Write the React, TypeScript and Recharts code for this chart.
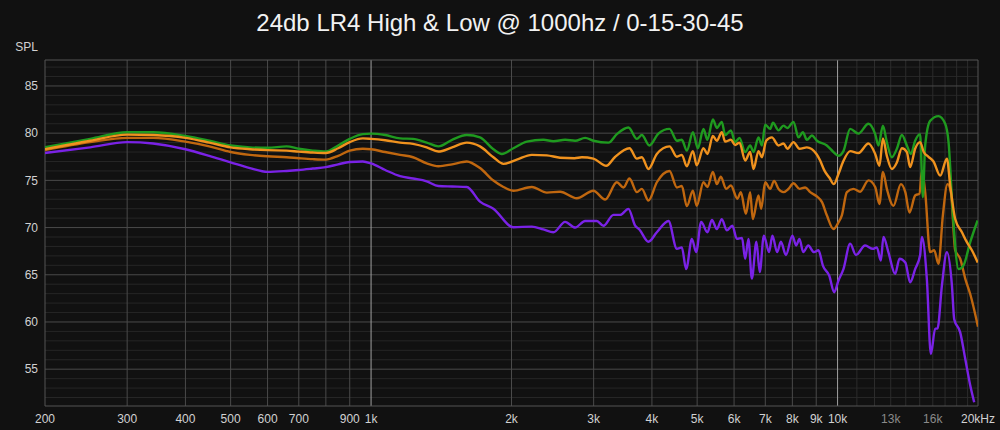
import React from "react";
import {LineChart, Line, XAxis, YAxis, ReferenceLine} from "recharts";

// frequency (Hz) / SPL (dB) readings per curve, 0-15-30-45 degrees
const greenHz = [200, 250, 300, 341, 400, 450, 500, 550, 600, 659, 700, 750, 800, 850, 900, 960, 1000, 1072, 1154, 1230, 1316, 1394, 1492, 1604, 1712, 1829, 1907, 2019, 2157, 2341, 2460, 2606, 2738, 2876, 2996, 3228, 3364, 3562, 3714, 3806, 3950, 4130, 4362, 4524, 4636, 4752, 4896, 5018, 5158, 5260, 5404, 5510, 5648, 5742, 5906, 6032, 6162, 6338, 6496, 6604, 6768, 6884, 6996, 7170, 7268, 7470, 7656, 7810, 8044, 8246, 8426, 8594, 8808, 9030, 9484, 9800, 10044, 10294, 10642, 11086, 11648, 12040, 12238, 12508, 12754, 13072, 13400, 13736, 14078, 14360, 14666, 15032, 15234, 15410, 15792, 16454, 17010, 17294, 17672, 18168, 18620, 19246, 19960];
const greenSpl = [78.5, 79.4, 80.1, 80.1, 79.7, 79.2, 78.7, 78.5, 78.45, 78.6, 78.35, 78.15, 78.05, 78.7, 79.4, 79.9, 79.95, 79.8, 79.45, 79.4, 79.0, 78.6, 79.3, 79.8, 79.55, 78.3, 77.8, 78.4, 79.1, 79.3, 79.15, 79.3, 79.2, 79.5, 79.2, 79.0, 79.9, 80.6, 79.4, 79.8, 78.7, 79.95, 80.45, 79.2, 79.3, 78.15, 80.1, 78.4, 80.45, 79.3, 81.45, 80.55, 81.2, 79.8, 80.3, 79.05, 79.5, 78.0, 78.7, 78.0, 79.55, 78.7, 80.9, 80.45, 81.1, 80.3, 80.8, 80.55, 81.2, 79.55, 80.1, 79.3, 79.75, 79.2, 78.7, 78.0, 77.6, 78.1, 80.45, 79.95, 81.0, 79.9, 78.7, 80.8, 79.05, 77.45, 78.35, 79.8, 78.7, 77.8, 79.2, 79.9, 73.2, 78.7, 81.3, 81.8, 81.0, 79.05, 71.3, 65.6, 66.0, 68.45, 70.75];

const orangeHz = [200, 250, 300, 341, 400, 450, 500, 550, 600, 659, 700, 750, 800, 850, 900, 960, 1000, 1072, 1154, 1230, 1316, 1394, 1492, 1604, 1712, 1829, 1922, 2053, 2211, 2381, 2542, 2730, 2830, 2996, 3194, 3330, 3580, 3714, 3806, 3932, 4098, 4362, 4524, 4636, 4752, 4896, 4990, 5158, 5260, 5404, 5510, 5648, 5742, 5906, 6032, 6162, 6338, 6496, 6604, 6768, 6884, 7030, 7230, 7470, 7656, 7810, 8044, 8286, 8594, 9010, 9176, 9380, 9600, 9820, 10040, 10280, 10642, 11086, 11648, 12040, 12298, 12508, 12754, 13072, 13400, 13736, 14078, 14308, 14666, 15032, 15300, 15660, 16056, 16598, 17154, 17438, 17872, 18476, 18934, 19406, 19972];
const orangeSpl = [78.3, 79.2, 79.85, 79.8, 79.5, 79.0, 78.5, 78.3, 78.2, 78.15, 78.05, 77.95, 77.9, 78.4, 79.05, 79.45, 79.4, 79.25, 79.0, 78.87, 78.5, 78.05, 78.5, 79.0, 78.6, 77.45, 76.75, 77.2, 77.7, 77.65, 77.4, 77.35, 77.45, 77.3, 76.55, 77.45, 78.4, 77.3, 77.45, 76.2, 77.8, 78.6, 77.5, 77.7, 76.5, 78.1, 76.6, 78.4, 77.8, 79.7, 79.2, 80.1, 79.1, 79.3, 78.75, 79.0, 77.1, 78.0, 76.2, 78.1, 77.45, 79.2, 79.55, 78.7, 78.9, 78.35, 79.05, 78.35, 78.5, 77.8, 77.1, 76.0, 75.3, 74.6, 75.65, 77.0, 78.1, 77.9, 78.9, 77.8, 76.55, 79.45, 77.6, 76.2, 76.9, 78.4, 78.0, 76.4, 78.35, 79.05, 78.0, 77.5, 77.0, 75.5, 77.3, 74.45, 70.9, 69.5, 68.45, 67.6, 66.3];

const brownHz = [200, 250, 300, 341, 400, 450, 500, 550, 600, 659, 700, 750, 800, 850, 900, 960, 1000, 1072, 1154, 1230, 1316, 1394, 1492, 1604, 1712, 1829, 1922, 2019, 2211, 2381, 2542, 2760, 2996, 3175, 3364, 3476, 3580, 3714, 3806, 3932, 4098, 4362, 4524, 4636, 4752, 4896, 4990, 5158, 5260, 5404, 5510, 5620, 5768, 5906, 6100, 6204, 6360, 6496, 6580, 6768, 6860, 6996, 7170, 7310, 7470, 7656, 7848, 8044, 8286, 8522, 8736, 9030, 9260, 9484, 9800, 10044, 10214, 10470, 10816, 11178, 11648, 12040, 12298, 12508, 12754, 13178, 13668, 13970, 14260, 14666, 14984, 15160, 15410, 15792, 16112, 16454, 16816, 17206, 17498, 17872, 18318, 18778, 19246, 20000];
const brownSpl = [78.2, 79.05, 79.5, 79.5, 79.1, 78.6, 78.0, 77.7, 77.55, 77.45, 77.35, 77.25, 77.2, 77.6, 78.15, 78.35, 78.3, 78.0, 77.7, 77.45, 76.8, 76.5, 76.7, 77.0, 76.3, 74.98, 74.3, 73.9, 74.3, 73.7, 73.8, 73.1, 73.9, 72.97, 74.8, 74.25, 75.2, 73.75, 74.1, 72.86, 74.8, 76.0, 74.25, 74.4, 72.27, 73.9, 72.3, 74.8, 74.3, 75.9, 74.6, 75.4, 74.1, 74.45, 73.05, 73.75, 71.45, 73.75, 70.9, 73.4, 72.0, 74.8, 74.1, 74.95, 74.1, 73.75, 74.1, 74.7, 74.1, 74.25, 73.75, 73.3, 72.7, 71.3, 69.85, 70.55, 71.3, 73.75, 74.1, 73.8, 75.0, 74.3, 72.5, 75.9, 74.1, 72.3, 74.6, 73.75, 71.6, 73.4, 73.6, 76.0, 73.75, 67.4, 67.6, 66.15, 71.3, 74.6, 73.75, 67.6, 66.7, 64.6, 62.96, 59.5];

const purpleHz = [200, 250, 300, 341, 400, 450, 500, 550, 600, 659, 700, 750, 800, 850, 900, 960, 1000, 1072, 1154, 1230, 1316, 1394, 1492, 1604, 1712, 1829, 2019, 2211, 2341, 2460, 2606, 2738, 2876, 3048, 3148, 3308, 3420, 3562, 3682, 3760, 3932, 4098, 4340, 4524, 4636, 4736, 4872, 4976, 5100, 5260, 5378, 5510, 5648, 5788, 5950, 6082, 6240, 6338, 6440, 6550, 6700, 6810, 6950, 7130, 7250, 7420, 7560, 7750, 8000, 8152, 8286, 8440, 8654, 8900, 9100, 9300, 9600, 9834, 10044, 10294, 10642, 10950, 11458, 11900, 12140, 12382, 12540, 12850, 13288, 13574, 13970, 14308, 14666, 15032, 15160, 15540, 15848, 16190, 16374, 16736, 17154, 17586, 17784, 18318, 18778, 19246, 19628];
const purpleSpl = [77.9, 78.5, 79.05, 78.9, 78.3, 77.6, 76.9, 76.3, 75.9, 76.0, 76.1, 76.25, 76.4, 76.7, 76.95, 77.0, 76.8, 76.1, 75.45, 75.2, 74.9, 74.4, 74.35, 74.3, 72.75, 72.0, 70.04, 70.1, 69.8, 69.5, 70.6, 70.0, 70.7, 70.7, 70.2, 71.35, 71.35, 71.98, 70.2, 69.8, 68.5, 69.5, 70.7, 67.75, 67.9, 65.6, 68.8, 67.4, 70.6, 69.5, 70.8, 69.85, 70.9, 69.7, 70.2, 68.8, 68.9, 66.7, 68.8, 64.6, 68.5, 65.3, 69.15, 67.4, 69.15, 67.4, 68.5, 67.1, 69.15, 68.1, 68.8, 67.4, 68.1, 67.4, 67.6, 65.97, 64.9, 63.15, 64.4, 65.6, 68.3, 67.1, 68.1, 67.75, 67.9, 66.5, 69.0, 67.4, 65.1, 66.7, 66.3, 64.2, 65.6, 67.1, 69.0, 64.5, 56.6, 59.3, 59.3, 63.85, 67.4, 63.85, 60.3, 58.9, 56.1, 53.3, 51.5];

const xTicks = [200, 300, 400, 500, 600, 700, 900, 1000, 2000, 3000, 4000, 5000, 6000, 7000, 8000, 9000, 10000, 13000, 16000, 20000];
const xTickLabels = ["200", "300", "400", "500", "600", "700", "900", "1k", "2k", "3k", "4k", "5k", "6k", "7k", "8k", "9k", "10k", "13k", "16k", "20kHz"];
const dimTicks = [13000, 16000];
const yTicks = [55, 60, 65, 70, 75, 80, 85];

const majorHz = [300, 400, 500, 600, 700, 800, 900, 2000, 3000, 4000, 5000, 6000, 7000, 8000, 9000];
const brightHz = [1000, 10000];
const minorHz = [11000, 12000, 13000, 14000, 15000, 16000, 17000, 18000, 19000];
const minorDb = [52, 53, 54, 56, 57, 58, 59, 61, 62, 63, 64, 66, 67, 68, 69, 71, 72, 73, 74, 76, 77, 78, 79, 81, 82, 83, 84, 86, 87];

const Y_MIN = 51.1;
const Y_MAX = 87.75;
const FONT = "'Liberation Sans', Arial, sans-serif";

const zip = (hz: number[], spl: number[]) => hz.map((f, i) => ({hz: f, spl: spl[i]}));

const curves = [
    {key: "45", color: "#7a22e6", data: zip(purpleHz, purpleSpl)},
    {key: "30", color: "#c0670f", data: zip(brownHz, brownSpl)},
    {key: "0", color: "#1f9a1f", data: zip(greenHz, greenSpl)},
    {key: "15", color: "#f0921e", data: zip(orangeHz, orangeSpl)},
];

const XTick = (props: any) => {
    const {x, y, payload} = props;
    const i = xTicks.indexOf(payload.value);
    const dim = dimTicks.includes(payload.value);
    return (
        <text x={x} y={y} dy={17} textAnchor="middle" fontSize={12} fontFamily={FONT}
              fill={dim ? "#8a8a8a" : "#d2d2d2"}>
            {xTickLabels[i]}
        </text>
    );
};

const YTick = (props: any) => {
    const {x, y, payload} = props;
    return (
        <text x={x} y={y} dy={4.3} textAnchor="end" fontSize={12} fontFamily={FONT} fill="#d2d2d2">
            {payload.value}
        </text>
    );
};

export default function App() {
    return (
        <div style={{position: "fixed", left: 0, top: 0, width: 1000, height: 430, background: "#111111"}}>
            <div style={{position: "absolute", left: 0, top: 10, width: 1000, textAlign: "center",
                color: "#f2f2f2", fontSize: 24, lineHeight: "25px", fontFamily: FONT}}>
                24db LR4 High &amp; Low @ 1000hz / 0-15-30-45
            </div>
            <div style={{position: "absolute", right: 962, top: 40, color: "#d2d2d2", fontSize: 12,
                lineHeight: "14px", fontFamily: FONT}}>
                SPL
            </div>
            <div style={{position: "absolute", left: 0, top: 0}}>
                <LineChart width={1000} height={430} margin={{top: 60, right: 22, bottom: 0, left: 0}}>
                    <XAxis dataKey="hz" type="number" scale="log" domain={[200, 20000]} ticks={xTicks}
                           interval={0} allowDataOverflow tickLine={false} axisLine={false} height={24}
                           tickSize={0} tickMargin={0}
                           tick={(p: any) => <XTick {...p}/>}/>
                    <YAxis type="number" domain={[Y_MIN, Y_MAX]} ticks={yTicks} interval={0} allowDataOverflow
                           tickLine={false} axisLine={false} width={45} tickSize={0} tickMargin={7}
                           tick={(p: any) => <YTick {...p}/>}/>
                    {minorDb.map(v => <ReferenceLine key={"hd" + v} y={v} stroke="#262626"/>)}
                    {minorHz.map(v => <ReferenceLine key={"vm" + v} x={v} stroke="#2c2c2c"/>)}
                    {yTicks.map(v => <ReferenceLine key={"hy" + v} y={v} stroke="#4a4a4a"/>)}
                    {majorHz.map(v => <ReferenceLine key={"vx" + v} x={v} stroke="#4a4a4a"/>)}
                    {brightHz.map(v => <ReferenceLine key={"vb" + v} x={v} stroke="#a0a0a0"/>)}
                    <ReferenceLine x={200} stroke="#555555"/>
                    <ReferenceLine x={20000} stroke="#555555"/>
                    <ReferenceLine y={Y_MIN} stroke="#555555"/>
                    <ReferenceLine y={Y_MAX} stroke="#555555"/>
                    {curves.map(c => (
                        <Line key={c.key} data={c.data} dataKey="spl" type="monotone" stroke={c.color}
                              strokeWidth={2.4} dot={false} isAnimationActive={false}/>
                    ))}
                </LineChart>
            </div>
        </div>
    );
}
